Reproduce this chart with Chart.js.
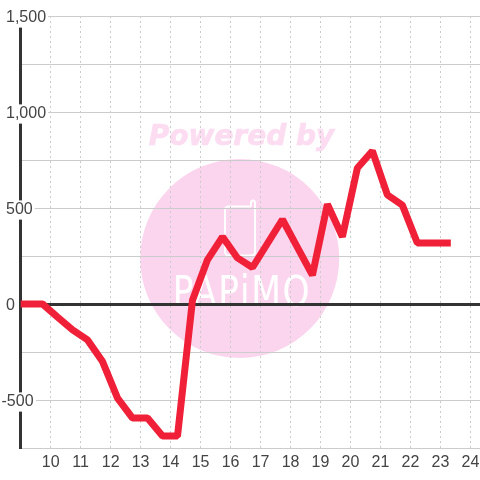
<!DOCTYPE html>
<html>
<head>
<meta charset="utf-8">
<script src="https://cdn.jsdelivr.net/npm/chart.js@4/dist/chart.umd.min.js"></script>
<style>
  html, body { margin: 0; padding: 0; background: #fff; }
  canvas { display: block; }
</style>
</head>
<body>
<canvas id="chart" width="480" height="480"></canvas>
<script>
// ── Data ────────────────────────────────────────────────────────────────────
const hours = [8.73, 9.23, 9.73, 10.23, 10.73, 11.23, 11.73, 12.23, 12.73, 13.23, 13.73, 14.23, 14.73,
  15.23, 15.73, 16.23, 16.73, 17.23, 17.73, 18.23, 18.73, 19.23, 19.73, 20.23, 20.73, 21.23, 21.73,
  22.23, 22.73, 23.23];
const values = [0, 0, 0, -68, -135, -187, -300, -490, -594, -594, -688, -688, 20,
  230, 350, 240, 190, 315, 440, 295, 150, 520, 350, 708, 797, 568, 515,
  318, 318, 318];
const watermarkTitle = 'Powered by';
const watermarkName = 'PAPiMO';

// ── Watermark + minus sign hang ─────────────────────────────────────────────
const backdropPlugin = {
  id: 'backdrop',
  beforeDraw(chart) {
    const c = chart.ctx;
    c.save();
    c.fillStyle = '#fff';
    c.fillRect(0, 0, 480, 480);

    c.fillStyle = '#fbd5ee';
    c.beginPath();
    c.arc(239.7, 258.5, 99.5, 0, Math.PI * 2);
    c.fill();

    c.fillStyle = '#fcdcf1';
    c.strokeStyle = '#fcdcf1';
    c.lineWidth = 0.7;
    c.font = 'italic bold 28px "DejaVu Sans"';
    c.textAlign = 'center';
    c.textBaseline = 'alphabetic';
    c.fillText(watermarkTitle, 241.5, 145);
    c.strokeText(watermarkTitle, 241.5, 145);

    // phone outline with the little antenna tab
    c.strokeStyle = '#fff';
    c.lineWidth = 2;
    c.lineJoin = 'round';
    c.beginPath();
    c.moveTo(251, 206.5);
    c.lineTo(229, 206.5);
    c.quadraticCurveTo(225, 206.5, 225, 210);
    c.lineTo(225, 251);
    c.quadraticCurveTo(225, 255.5, 229, 255.5);
    c.lineTo(251, 255.5);
    c.quadraticCurveTo(255, 255.5, 255, 252);
    c.lineTo(255, 203);
    c.quadraticCurveTo(255, 200.5, 253, 200.5);
    c.quadraticCurveTo(251, 200.5, 251, 203);
    c.lineTo(251, 206.5);
    c.stroke();

    c.fillStyle = '#fff';
    c.font = '40px "DejaVu Sans"';
    c.letterSpacing = '2px';
    c.save();
    c.translate(242, 306);
    c.scale(0.86, 1.05);
    c.textAlign = 'center';
    c.fillText(watermarkName, 0, 0);
    c.restore();
    c.restore();

    // negative labels hang their minus sign left of the digits
    const y = chart.scales.y;
    y.getLabelItems().forEach(item => {
      if (String(item.label).startsWith('-')) {
        item.options.translation[0] = y.left - 4.5;
        item.options.backdrop.left = y.left - 5.5;
      }
    });
  }
};

// ── Chart ───────────────────────────────────────────────────────────────────
const points = hours.map((h, i) => ({ x: h, y: values[i] }));

new Chart(document.getElementById('chart').getContext('2d'), {
  type: 'line',
  data: {
    datasets: [{
      data: points,
      borderColor: '#f02038',
      borderWidth: 7,
      borderCapStyle: 'square',
      borderJoinStyle: 'bevel',
      pointRadius: 0,
      tension: 0
    }]
  },
  options: {
    responsive: false,
    animation: false,
    layout: { padding: { left: 6, top: 16, right: 0, bottom: 0 } },
    plugins: { legend: { display: false }, tooltip: { enabled: false } },
    scales: {
      x: {
        type: 'linear',
        min: 9,
        max: 24.32,
        afterFit: s => { s.height = 32; s.paddingLeft = 0; s.paddingRight = 0; },
        grid: { color: '#cccccc', lineWidth: 1, drawTicks: false },
        border: { display: false, dash: [2, 3] },
        ticks: {
          stepSize: 1,
          includeBounds: false,
          autoSkip: false,
          maxRotation: 0,
          padding: 5,
          color: '#444444',
          font: { family: '"Liberation Sans"', size: 16 },
          callback: v => (v === 9 ? null : String(v))
        }
      },
      y: {
        min: -750,
        max: 1500,
        afterFit: s => { s.width = 14.7; },
        grid: {
          color: c => (c.tick.value === 0 ? '#333333' : '#cccccc'),
          lineWidth: c => (c.tick.value === 0 ? 3 : 1),
          drawTicks: false
        },
        border: { color: '#333333', width: 3 },
        ticks: {
          stepSize: 250,
          autoSkip: false,
          mirror: true,
          padding: -14.7,
          labelOffset: 2,
          color: '#444444',
          font: { family: '"Liberation Sans"', size: 16 },
          showLabelBackdrop: true,
          backdropColor: '#ffffff',
          backdropPadding: { top: 0, bottom: 0, left: 0, right: 2 },
          callback: v => (v % 500 === 0 ? v.toLocaleString('en-US') : '')
        }
      }
    }
  },
  plugins: [backdropPlugin]
});
</script>
</body>
</html>
